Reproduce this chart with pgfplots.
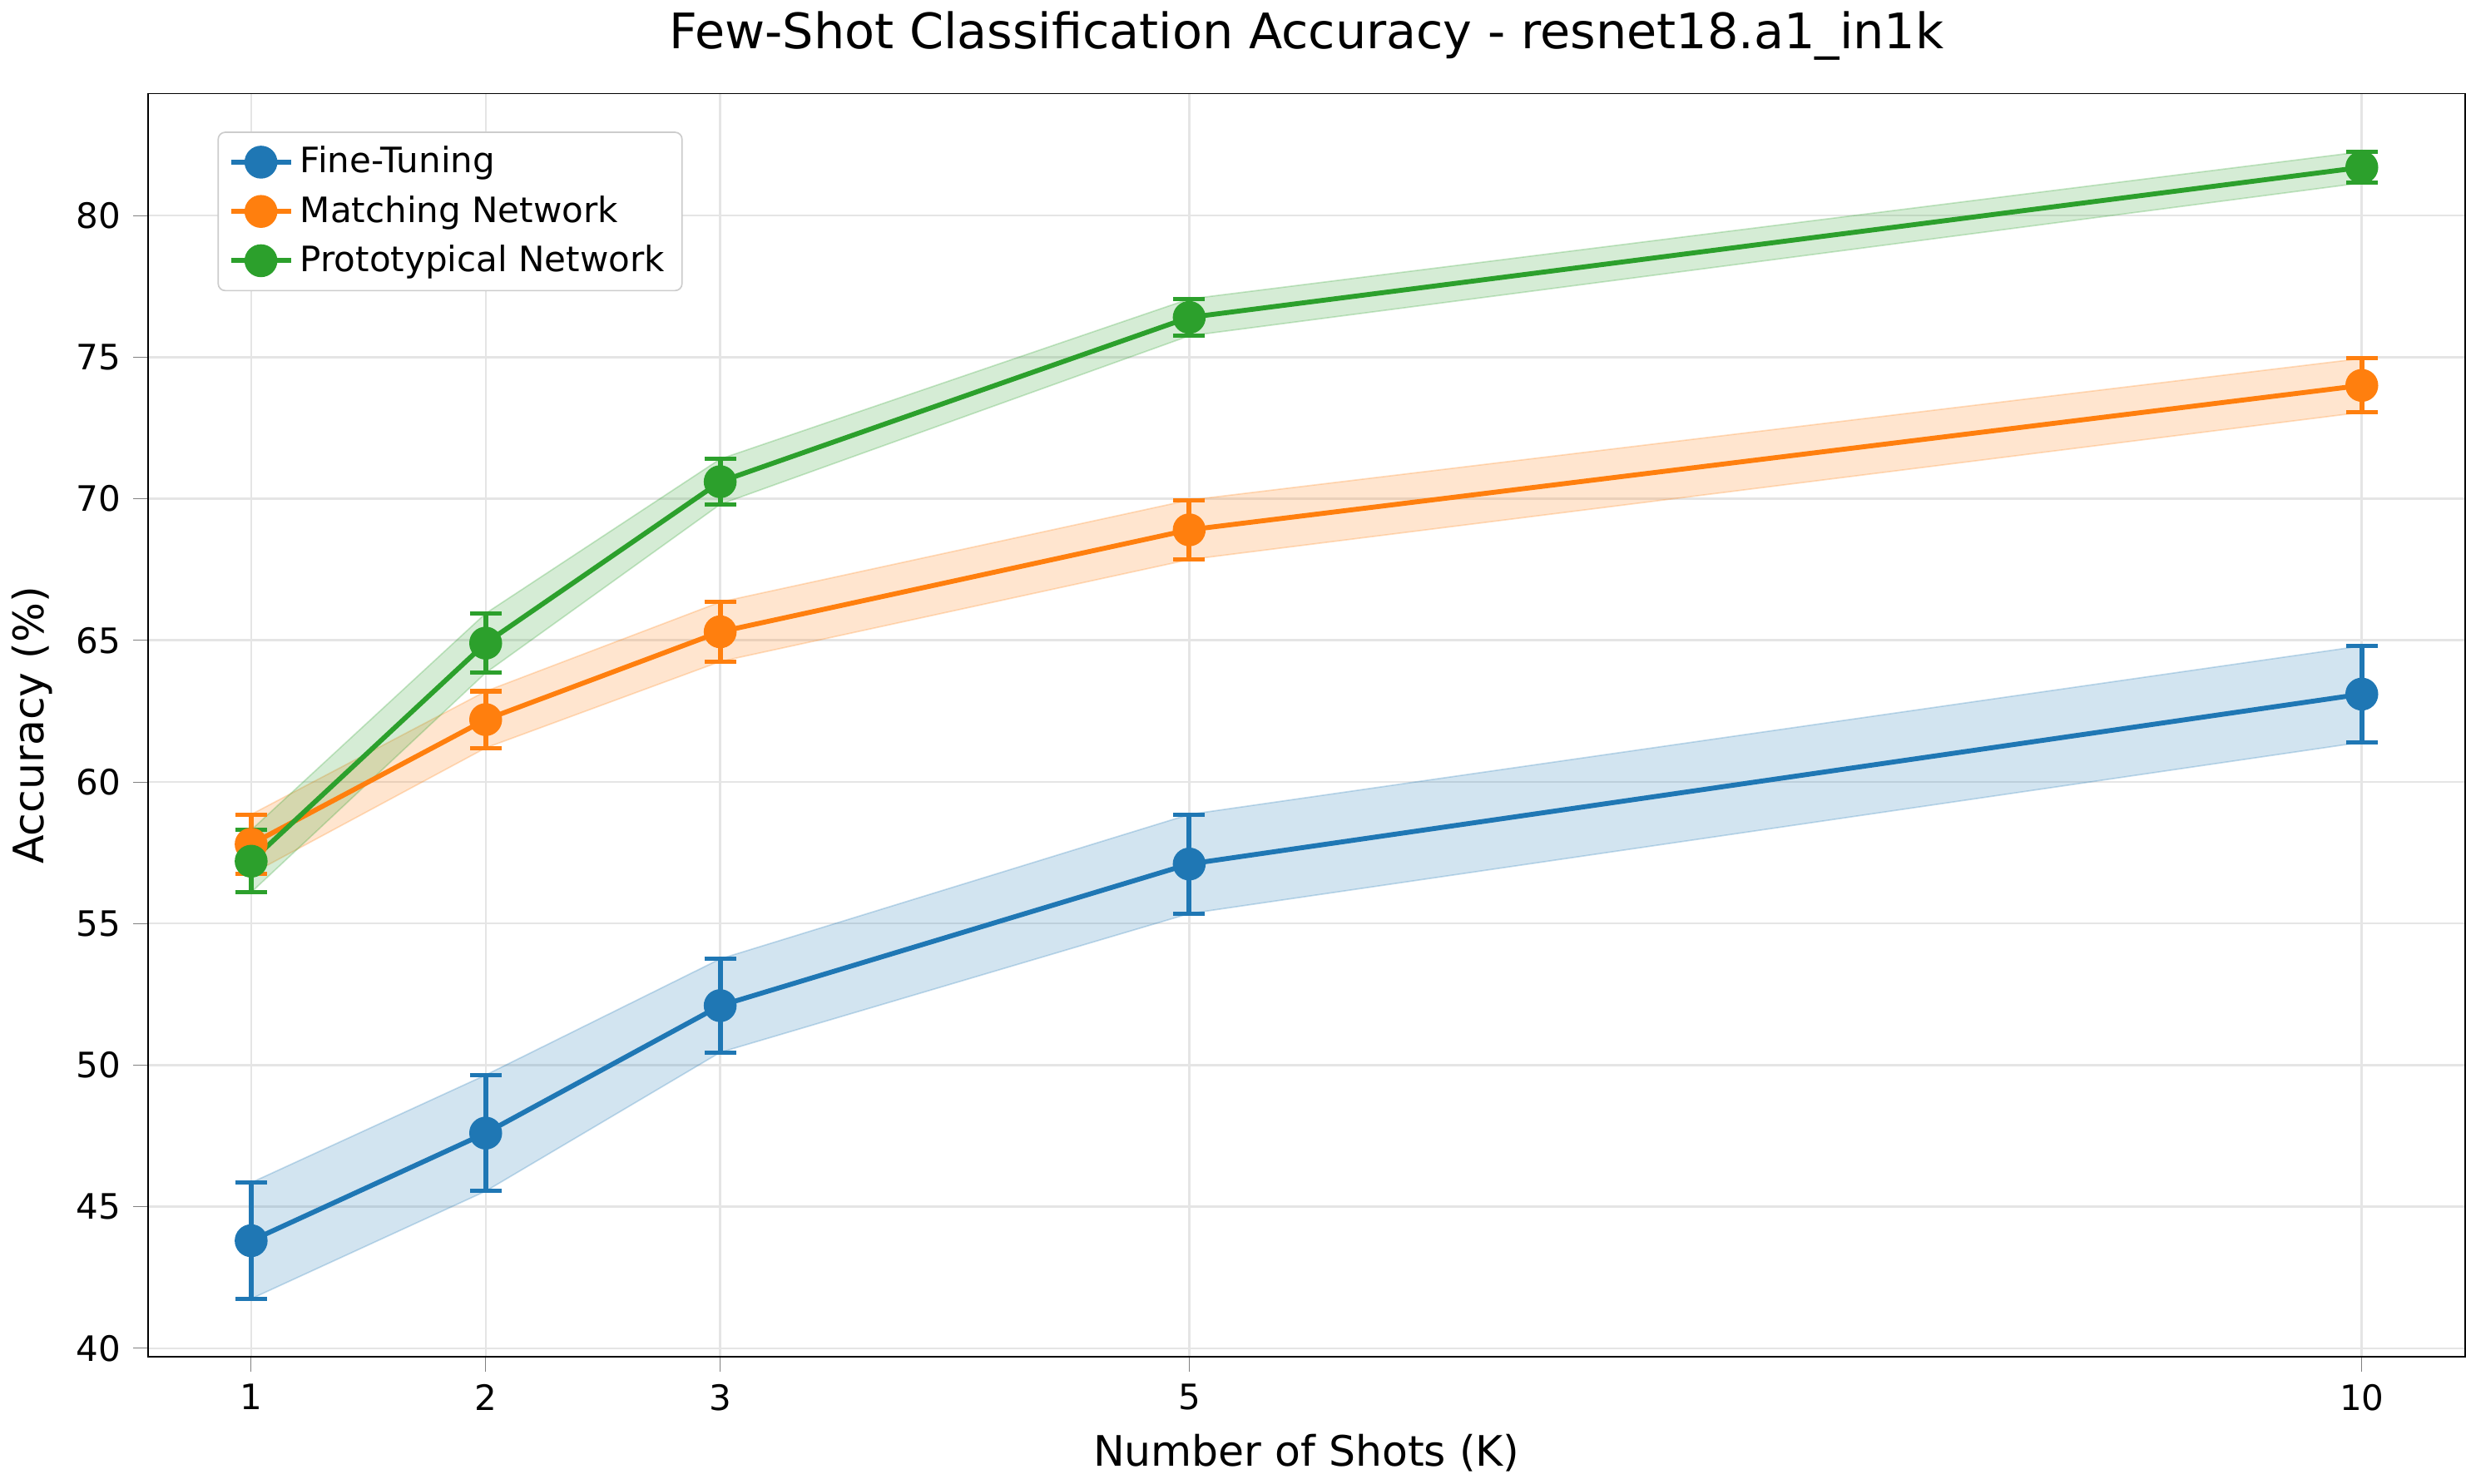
\documentclass[border=0pt]{standalone}
\usepackage{pgfplots}
\pgfplotsset{compat=1.18}
\usepackage{fontspec}
\setmainfont{DejaVu Sans}
\definecolor{c0}{HTML}{1F77B4}
\definecolor{c1}{HTML}{FF7F0E}
\definecolor{c2}{HTML}{2CA02C}
\pgfplotsset{eb/.style={line width=1.4pt, mark=*, mark size=4pt, color=#1, mark options={fill=#1},
  error bars/y dir=both, error bars/y explicit,
  error bars/error mark options={rotate=90, mark size=4.5pt, line width=1.2pt, color=#1},
  error bars/error bar style={line width=1.4pt, color=#1}}}
\begin{document}
\begin{tikzpicture}
\begin{axis}[
  scale only axis, width=9.17in, height=5.0in,
  xmin=0.56, xmax=10.44, ymin=39.7, ymax=84.3,
  xtick={1,2,3,5,10}, ytick={40,45,...,80},
  /pgf/number format/assume math mode=true,
  tick label style={font=\fontsize{10}{12}\selectfont},
  label style={font=\fontsize{12}{14}\selectfont},
  title style={font=\fontsize{14}{16}\selectfont},
  title={Few-Shot Classification Accuracy - resnet18.a1\_in1k},
  xlabel={Number of Shots (K)}, ylabel={Accuracy (\%)},
  grid=major, major grid style={gray!20, line width=0.6pt},
  tick align=outside, tick pos=left,
  legend pos=north west,
  legend style={font=\fontsize{10}{12}\selectfont, draw=gray!40, rounded corners=2pt, row sep=1pt},
  legend cell align=left,
]
\addplot[fill=c0, fill opacity=0.2, draw=c0, draw opacity=0.25, forget plot] coordinates {
(1,41.75)(2,45.55)(3,50.45)(5,55.35)(10,61.4)(10,64.8)(5,58.85)(3,53.75)(2,49.65)(1,45.85)} -- cycle;
\addplot[fill=c1, fill opacity=0.2, draw=c1, draw opacity=0.25, forget plot] coordinates {
(1,56.75)(2,61.2)(3,64.25)(5,67.85)(10,73.05)(10,74.95)(5,69.95)(3,66.35)(2,63.2)(1,58.85)} -- cycle;
\addplot[fill=c2, fill opacity=0.2, draw=c2, draw opacity=0.25, forget plot] coordinates {
(1,56.1)(2,63.85)(3,69.8)(5,75.75)(10,81.15)(10,82.25)(5,77.05)(3,71.4)(2,65.95)(1,58.3)} -- cycle;
\addplot[eb=c0] coordinates {
(1,43.8)+-(0,2.05)(2,47.6)+-(0,2.05)(3,52.1)+-(0,1.65)(5,57.1)+-(0,1.75)(10,63.1)+-(0,1.7)};
\addlegendentry{Fine-Tuning}
\addplot[eb=c1] coordinates {
(1,57.8)+-(0,1.05)(2,62.2)+-(0,1.0)(3,65.3)+-(0,1.05)(5,68.9)+-(0,1.05)(10,74.0)+-(0,0.95)};
\addlegendentry{Matching Network}
\addplot[eb=c2] coordinates {
(1,57.2)+-(0,1.1)(2,64.9)+-(0,1.05)(3,70.6)+-(0,0.8)(5,76.4)+-(0,0.65)(10,81.7)+-(0,0.55)};
\addlegendentry{Prototypical Network}
\end{axis}
\end{tikzpicture}
\end{document}
